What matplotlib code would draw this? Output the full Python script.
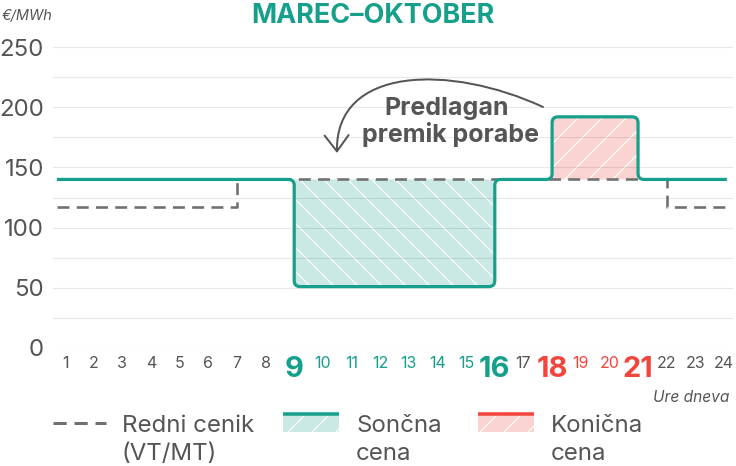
import numpy as np
import matplotlib
matplotlib.use('Agg')
import matplotlib.pyplot as plt
from matplotlib.path import Path
from matplotlib.patches import PathPatch, FancyArrowPatch, Rectangle
from matplotlib.lines import Line2D

plt.rcParams['font.family'] = ['Inter', 'DejaVu Sans']
plt.rcParams['hatch.linewidth'] = 1.2

# --- data ---
ure = list(range(1, 25))
meje_soncna = [9, 16]      # solar tariff hours
meje_konicna = [18, 21]    # peak tariff hours

redni_x = [0.72, 7, 7, 22, 22, 24.1]
redni_y = [117, 117, 140, 140, 117, 117]

soncna_x = [0.72, 9, 9, 16, 16, 18, 18, 21, 21, 24.1]
soncna_y = [140, 140, 51, 51, 140, 140, 192, 192, 140, 140]

y_ticks = [0, 50, 100, 150, 200, 250]

# --- colours ---
teal = '#16a08b'
teal_light = '#cbe9e4'
red = '#f2453d'
red_light = '#fcd3d3'
dash_grey = '#707070'
txt = '#555555'

W, H = 736, 466
fig = plt.figure(figsize=(W / 72, H / 72), dpi=72)
# axes in pixels: left 53, right 733, top 47, bottom 348
ax = fig.add_axes([53 / W, 1 - 348 / H, 680 / W, 301 / H])
ax.set_xlim(1 - 12 / 28.652, 24 + 9 / 28.652)
ax.set_ylim(0, 250)
for s in ax.spines.values():
    s.set_visible(False)

ax.set_yticks(np.arange(0, 251, 25))
ax.set_yticklabels([str(v) if v in y_ticks else '' for v in np.arange(0, 251, 25)])
ax.tick_params(axis='y', length=0, pad=9, labelsize=24, labelcolor=txt)
ax.set_xticks([])
ax.grid(axis='y', color='black', alpha=0.09, lw=1.2, zorder=2.5)
ax.set_axisbelow(False)

rx, ry = 6 / 28.652, 6 / 1.204


def rounded(xs, ys, corners=None, close=False):
    pts = list(zip(xs, ys))
    verts = [pts[0]]
    codes = [Path.MOVETO]
    for i in range(1, len(pts) - 1):
        p, a, b = np.array(pts[i]), np.array(pts[i - 1]), np.array(pts[i + 1])
        if corners is not None and i not in corners:
            verts.append(tuple(p))
            codes.append(Path.LINETO)
            continue
        din = np.sign(p - a)
        dout = np.sign(b - p)
        p1 = p - din * np.array([rx, ry])
        p2 = p + dout * np.array([rx, ry])
        verts += [tuple(p1), tuple(p), tuple(p2)]
        codes += [Path.LINETO, Path.CURVE3, Path.CURVE3]
    verts.append(pts[-1])
    codes.append(Path.LINETO)
    if close:
        verts.append(pts[0])
        codes.append(Path.CLOSEPOLY)
    return Path(verts, codes)


# hatched areas
i0, i1 = soncna_x.index(meje_soncna[0]), soncna_x.index(meje_soncna[1]) + 1
p_sol = rounded(soncna_x[i0:i1 + 1], soncna_y[i0:i1 + 1], corners=[1, 2], close=True)
ax.add_patch(PathPatch(p_sol, facecolor=teal_light, edgecolor='white', lw=0,
                       hatch='\\', zorder=1))
j0, j1 = soncna_x.index(meje_konicna[0]), soncna_x.index(meje_konicna[1]) + 1
p_kon = rounded(soncna_x[j0:j1 + 1], soncna_y[j0:j1 + 1], corners=[1, 2], close=True)
ax.add_patch(PathPatch(p_kon, facecolor=red_light, edgecolor='white', lw=0,
                       hatch='/', zorder=1))

# regular tariff
ax.plot(redni_x, redni_y, color=dash_grey, lw=2.6, dashes=(4.6, 2.8), zorder=3)
# solar tariff line
ax.add_patch(PathPatch(rounded(soncna_x, soncna_y), facecolor='none',
                       edgecolor=teal, lw=3.2, capstyle='butt', zorder=4))

# hour labels
for h in ure:
    big = h in meje_soncna + meje_konicna
    if meje_soncna[0] <= h <= meje_soncna[1]:
        c = teal
    elif meje_konicna[0] <= h <= meje_konicna[1]:
        c = red
    else:
        c = txt
    ax.text(h, -8 / 301, str(h), transform=ax.get_xaxis_transform(),
            ha='center', va='top', color=c,
            fontsize=29 if big else 16, fontweight='bold' if big else 'normal')

# arrow
def px2d(px, py):
    return (1 + (px - 65) / 28.652, (348 - py) / 1.204)

arr = Path([px2d(543, 107), px2d(450, 64), px2d(335, 66), px2d(337, 153)],
           [Path.MOVETO, Path.CURVE4, Path.CURVE4, Path.CURVE4])
ax.add_patch(FancyArrowPatch(path=arr, arrowstyle='->,head_length=0.8,head_width=0.6',
                             mutation_scale=20, lw=2, color=txt, zorder=5))
ax.text(*px2d(447, 115), 'Predlagan', ha='center', va='baseline',
        fontsize=25, fontweight='bold', color=txt, zorder=6)
ax.text(*px2d(450, 142), 'premik porabe', ha='center', va='baseline',
        fontsize=25, fontweight='bold', color=txt, zorder=6)

# texts in figure pixels
def ft(x, y, s, **kw):
    fig.text(x / W, 1 - y / H, s, **kw)

ft(373, 23, 'MAREC–OKTOBER', ha='center', va='baseline', fontsize=27,
   fontweight='bold', color=teal)
ft(2, 16, '€/MWh', ha='left', va='center', fontsize=14.5, style='italic', color=txt)
ft(729, 398, 'Ure dneva', ha='right', va='center', fontsize=15.5, style='italic', color=txt)

# legend
fig.add_artist(Line2D([53 / W, 106 / W], [1 - 423 / H] * 2, color=dash_grey, lw=3,
                      dashes=(4.4, 2.6), transform=fig.transFigure))
ft(122, 432, 'Redni cenik', ha='left', va='baseline', fontsize=24, color=txt)
ft(122, 460, '(VT/MT)', ha='left', va='baseline', fontsize=24, color=txt)

for x0, lc, fc, t1, t2 in [(283, teal, teal_light, 'Sončna', 'cena'),
                           (478, red, red_light, 'Konična', 'cena')]:
    fig.add_artist(Rectangle((x0 / W, 1 - 432 / H), 56 / W, 18 / H, facecolor=fc,
                             edgecolor='white', lw=0, hatch='/', transform=fig.transFigure))
    fig.add_artist(Line2D([x0 / W, (x0 + 56) / W], [1 - 414 / H] * 2, color=lc, lw=3.5,
                          solid_capstyle='butt', transform=fig.transFigure))
    ft(x0 + 73, 432, t1, ha='left', va='baseline', fontsize=24, color=txt)
    ft(x0 + 73, 460, t2, ha='left', va='baseline', fontsize=24, color=txt)

fig.savefig('out.png', dpi=72)
